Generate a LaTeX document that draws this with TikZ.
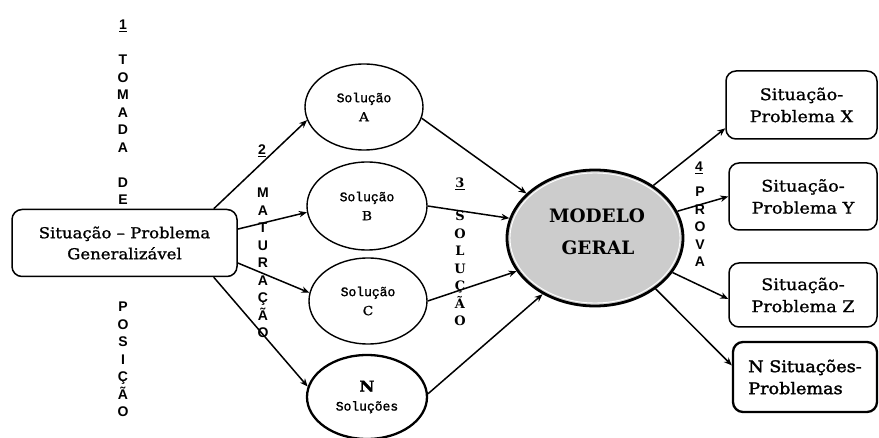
\documentclass[tikz,border=0pt]{standalone}
\usepackage{fontspec}
\setmainfont{DejaVu Serif}
\setsansfont{Liberation Sans}
\setmonofont{Liberation Mono}
\newfontfamily\boxfont[FakeStretch=1.1,FakeBold=1.2]{DejaVu Serif}
\newfontfamily\solmono[FakeBold=1.5]{Liberation Mono}
\usetikzlibrary{arrows.meta,shapes.geometric}

\newcommand\solfont{\solmono\fontsize{13}{19}\selectfont}

\tikzset{
  conn/.style={line width=1.5pt, -{Stealth[length=8pt,width=6.5pt]}},
  sitbox/.style={draw, line width=1.5pt, rounded corners=10pt, align=center,
    inner sep=0pt, font=\boxfont\fontsize{15}{21}\selectfont},
  rightbox/.style={sitbox, font=\boxfont\fontsize{16}{22}\selectfont},
  solu/.style={draw, ellipse, line width=1.4pt, inner sep=0pt, align=center,
    font=\boxfont\fontsize{12.5}{19}\selectfont},
  vletter/.style={font=\sffamily\bfseries\fontsize{14}{14}\selectfont,
    anchor=base, inner sep=0pt},
  vletterser/.style={font=\bfseries\fontsize{13}{13}\selectfont,
    anchor=base, inner sep=0pt},
  modeltext/.style={font=\bfseries\fontsize{18.5}{18}\selectfont, inner sep=0pt},
}

\begin{document}
\begin{tikzpicture}[x=1pt,y=-1pt]
\useasboundingbox (0,0) rectangle (879,438);

% ---- starting situation
\node[sitbox, minimum width=225pt, minimum height=67pt] (L) at (124.5,243)
  {Situação – Problema\\Generalizável};

% ---- solutions
\node[solu, minimum width=118pt, minimum height=86pt] (A) at (364,107)
  {{\solfont Solução}\\A};
\node[solu, minimum width=120pt, minimum height=88pt] (B) at (367,206)
  {{\solfont Solução}\\B};
\node[solu, minimum width=118pt, minimum height=86pt] (C) at (368,301)
  {{\solfont Solução}\\C};
\node[solu, line width=2.3pt, minimum width=120pt, minimum height=84pt] (N) at (367,397)
  {{\bfseries\fontsize{15}{19}\selectfont N}\\{\solfont Soluções}};

% ---- general model
\node[ellipse, draw, line width=2.8pt, fill=gray!40, minimum width=176pt,
  minimum height=136pt, inner sep=0pt] (M) at (595,238) {};
\draw[white, line width=0.9pt] (M.center) ellipse [x radius=85pt, y radius=65pt];
\node[modeltext] (modelo) at (597,216) {MODELO};
\node[modeltext] (geral) at (598,248) {GERAL};

% ---- test situations
\node[rightbox, minimum width=151pt, minimum height=68pt] (X) at (801.5,105)
  {Situação-\\Problema X};
\node[rightbox, minimum width=148pt, minimum height=67pt] (Y) at (803,196.5)
  {Situação-\\Problema Y};
\node[rightbox, minimum width=148pt, minimum height=64pt] (Z) at (803,295)
  {Situação-\\Problema Z};
\node[rightbox, line width=2.3pt, align=left, minimum width=144pt, minimum height=70pt,
  font=\boxfont\fontsize{16}{22}\selectfont\addfontfeature{FakeBold=2}] (NS) at (805,377)
  {N Situações-\\Problemas};

% ---- connectors
\draw[conn] (L.21) -- (A.193);
\draw[conn] (L.7) -- (B.186);
\draw[conn] (L.-10) -- (C.172);
\draw[conn] (L.-21) -- (N.170);
\draw[conn] (A.-11) -- (M.147);
\draw[conn] (B.0) -- (M.167);
\draw[conn] (C.0) -- (M.203);
\draw[conn] (N.3) -- (M.227);
\draw[conn] (M.42) -- (X.197);
\draw[conn] (M.18) -- (Y.180);
\draw[conn] (M.-24) -- (Z.183);
\draw[conn] (M.-40) -- (NS.171);

% ---- phase labels, written vertically
\node[vletter] (num1) at (123,30) {\underline{1}};
\foreach \ch [count=\i] in {T,O,M,A,D,A}
  \node[vletter] (tom\i) at (123,{65+17.5*(\i-1)}) {\ch};
\foreach \ch [count=\i] in {D,E}
  \node[vletter] (de\i) at (123,{187.5+17.5*(\i-1)}) {\ch};
\foreach \ch [count=\i] in {P,O,S,I,Ç,Ã,O}
  \node[vletter] (pos\i) at (123,{312+17.5*(\i-1)}) {\ch};

\node[vletter] (num2) at (262,155) {\underline{2}};
\foreach \ch [count=\i] in {M,A,T,U,R,A,Ç,Ã,O}
  \node[vletter] (mat\i) at (263,{198+17.5*(\i-1)}) {\ch};

\node[vletterser] (num3) at (460,188) {\underline{3}};
\foreach \ch [count=\i] in {S,O,L,U,Ç,Ã,O}
  \node[vletterser] (sol\i) at (460,{221+17.5*(\i-1)}) {\ch};

\node[vletter] (num4) at (699,172) {\underline{4}};
\foreach \ch [count=\i] in {P,R,O,V,A}
  \node[vletter] (pro\i) at (700,{197+17.5*(\i-1)}) {\ch};
\end{tikzpicture}
\end{document}
